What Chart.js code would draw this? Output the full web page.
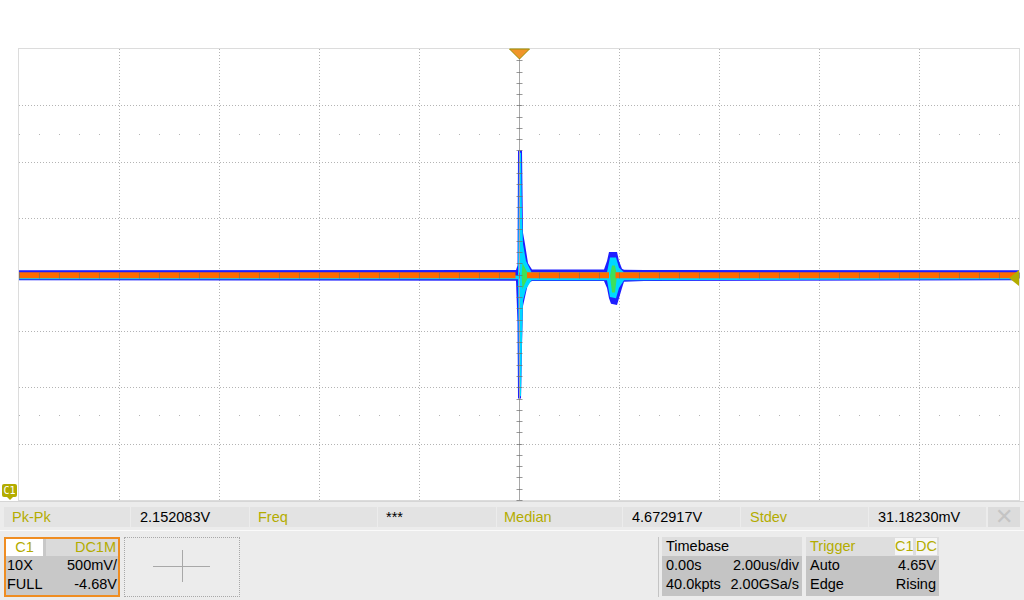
<!DOCTYPE html>
<html>
<head>
<meta charset="utf-8">
<script src="https://cdn.jsdelivr.net/npm/chart.js@4/dist/chart.umd.min.js"></script>
<style>
body { margin: 0; width: 1024px; height: 600px; background: #fff; overflow: hidden;
       font-family: "Liberation Sans", Arial, sans-serif; font-size: 14.5px; position: relative; }
#wrap { position: absolute; left: 0; top: 0; width: 1024px; height: 502px; }
.abs { position: absolute; box-sizing: border-box; }
.olive { color: #b3ac00; }
.cell { position: absolute; top: 507px; height: 20px; background: #e3e3e3; line-height: 20px; padding-left: 8px; box-sizing: border-box; white-space: nowrap; }
.row { position: absolute; height: 19px; line-height: 19px; white-space: nowrap; }
.r { text-align: right; }
</style>
</head>
<body>
<div id="wrap"><canvas id="scope" width="1024" height="502"></canvas></div>

<!-- channel marker -->
<div class="abs" style="left:2px;top:484px;width:15px;height:13px;background:#b3ac00;border-radius:2px;color:#fff;font-size:10px;line-height:13px;text-align:center;font-family:'DejaVu Sans Mono',monospace;">C1</div>
<div class="abs" style="left:7px;top:497px;width:0;height:0;border-left:3px solid transparent;border-right:3px solid transparent;border-top:3px solid #b3ac00;"></div>

<!-- measurement bar -->
<div class="abs" style="left:0;top:502px;width:1024px;height:98px;background:#ececec;"></div>
<div class="abs" style="left:0;top:501px;width:1024px;height:1px;background:#d6d6d6;"></div>
<div class="abs" style="left:0;top:530px;width:1024px;height:1px;background:#fafafa;"></div>
<div class="cell olive" style="left:4px;width:126px;">Pk-Pk</div>
<div class="cell" style="left:131px;width:118px;padding-left:9px;">2.152083V</div>
<div class="cell olive" style="left:250px;width:127px;">Freq</div>
<div class="cell" style="left:378px;width:118px;">***</div>
<div class="cell olive" style="left:497px;width:125px;padding-left:7px;">Median</div>
<div class="cell" style="left:623px;width:117px;padding-left:9px;">4.672917V</div>
<div class="cell olive" style="left:741px;width:127px;padding-left:9px;">Stdev</div>
<div class="cell" style="left:869px;width:117px;padding-left:9px;">31.18230mV</div>
<div class="cell" style="left:988px;width:32px;padding-left:0;background:#dcdcdc;color:#c4c4c4;text-align:center;font-size:22px;">&#x2715;</div>

<!-- channel box -->
<div class="abs" style="left:4px;top:537px;width:116px;height:60px;border:2px solid #ef8d22;background:#c8c8c8;"></div>
<div class="abs olive" style="left:6px;top:539px;width:37px;height:17px;background:#fff;text-align:center;line-height:17px;">C1</div>
<div class="abs olive r" style="left:46px;top:539px;width:72px;height:17px;background:#dadada;line-height:17px;padding-right:2px;">DC1M</div>
<div class="row" style="left:7px;top:556px;">10X</div>
<div class="row r" style="left:40px;top:556px;width:77px;">500mV/</div>
<div class="row" style="left:7px;top:575px;">FULL</div>
<div class="row r" style="left:40px;top:575px;width:77px;">-4.68V</div>

<!-- empty slot with crosshair -->
<div class="abs" style="left:124px;top:537px;width:116px;height:60px;border:1px dotted #a8a8a8;"></div>
<div class="abs" style="left:153px;top:566px;width:57px;height:1px;background:#a8a8a8;"></div>
<div class="abs" style="left:182px;top:550px;width:1px;height:32px;background:#a8a8a8;"></div>

<!-- timebase -->
<div class="abs" style="left:658px;top:537px;width:1px;height:60px;background:#c4c4c4;"></div>
<div class="abs" style="left:662px;top:537px;width:140px;height:19px;background:#dedede;"></div>
<div class="abs" style="left:662px;top:556px;width:140px;height:40px;background:#c4c4c4;"></div>
<div class="row" style="left:666px;top:537px;">Timebase</div>
<div class="row" style="left:666px;top:556px;">0.00s</div>
<div class="row r" style="left:700px;top:556px;width:99px;">2.00us/div</div>
<div class="row" style="left:666px;top:575px;">40.0kpts</div>
<div class="row r" style="left:700px;top:575px;width:99px;">2.00GSa/s</div>

<!-- trigger -->
<div class="abs" style="left:806px;top:537px;width:133px;height:19px;background:#dedede;"></div>
<div class="abs" style="left:806px;top:556px;width:133px;height:40px;background:#c4c4c4;"></div>
<div class="row olive" style="left:810px;top:537px;">Trigger</div>
<div class="abs olive" style="left:895px;top:538px;width:18px;height:17px;background:#f6f6f6;line-height:17px;text-align:center;">C1</div>
<div class="abs olive" style="left:916px;top:538px;width:21px;height:17px;background:#f6f6f6;line-height:17px;text-align:center;">DC</div>
<div class="row" style="left:810px;top:556px;">Auto</div>
<div class="row r" style="left:860px;top:556px;width:76px;">4.65V</div>
<div class="row" style="left:810px;top:575px;">Edge</div>
<div class="row r" style="left:860px;top:575px;width:76px;">Rising</div>

<script>
//SCREEN SETTINGS
var xDivs = [-10, -8, -6, -4, -2, 0, 2, 4, 6, 8, 10]; //time in us, 2.00us/div
var yDivs = [2.68, 3.18, 3.68, 4.18, 4.68, 5.18, 5.68, 6.18, 6.68]; //volts, 500mV/div, offset -4.68V
var trigPos = 0; //us
var trigLevel = 4.65; //V

//TRACE (persistence envelopes)
var timeBlue = [-10, -0.06, -0.03, -0.02, 0.04, 0.06, 0.08, 0.12, 0.18, 0.26, 1.7, 1.76, 1.8, 1.84, 1.96, 2.0, 2.06, 2.1, 2.5, 10];
var blueHi = [4.717, 4.72, 4.76, 5.78, 5.78, 5.78, 5.05, 4.95, 4.78, 4.725, 4.724, 4.80, 4.88, 4.88, 4.88, 4.80, 4.73, 4.722, 4.72, 4.717];
var blueLo = [4.628, 4.625, 4.25, 3.58, 3.58, 4.05, 4.40, 4.48, 4.60, 4.622, 4.622, 4.56, 4.47, 4.42, 4.41, 4.47, 4.56, 4.615, 4.622, 4.628];

var timeCyan = [-10, -0.02, 0.0, 0.04, 0.06, 0.08, 0.14, 0.25, 1.76, 1.82, 1.94, 2.0, 2.1, 10];
var cyanHi = [4.672, 4.672, 5.76, 5.76, 5.2, 4.95, 4.80, 4.70, 4.70, 4.83, 4.83, 4.74, 4.70, 4.672];
var cyanLo = [4.638, 4.638, 3.60, 3.60, 4.1, 4.45, 4.55, 4.628, 4.628, 4.48, 4.47, 4.56, 4.628, 4.638];

var timeGreen = [-10, 0.05, 0.07, 0.12, 0.2, 1.82, 1.86, 1.92, 1.96, 10];
var greenHi = [4.67, 4.67, 4.78, 4.74, 4.67, 4.67, 4.76, 4.76, 4.67, 4.67];
var greenLo = [4.67, 4.67, 4.55, 4.60, 4.67, 4.67, 4.52, 4.52, 4.67, 4.67];

var timeOrange = [-10, -0.07, 0, 0.16, 1.8, 1.86, 1.93, 10];
var orangeLevel = [4.674, 4.674, null, 4.674, 4.674, null, 4.674, 4.674];

function pts(ts, vs) {
    var out = [];
    for (var i = 0; i < ts.length; i++)
        out.push({ x: ts[i], y: vs[i] });
    return out;
}

function band(label, ts, vs, color, fill, order) {
    return {
        label: label,
        data: pts(ts, vs),
        borderWidth: 0,
        borderColor: 'rgba(0,0,0,0)',
        backgroundColor: color,
        pointRadius: 0,
        tension: 0,
        fill: fill,
        order: order
    };
}

//grid, axes and markers
var scopeGrid = {
    id: 'scopeGrid',
    beforeDatasetsDraw: function(chart) {
        var ctx = chart.ctx, a = chart.chartArea;
        var xs = chart.scales.x, ys = chart.scales.y;
        ctx.save();
        ctx.fillStyle = '#fff';
        ctx.fillRect(a.left, a.top, a.right - a.left, a.bottom - a.top);
        ctx.strokeStyle = '#b4b4b4';
        ctx.lineWidth = 1;
        ctx.setLineDash([1, 2]);
        for (var i = 1; i < xDivs.length - 1; i++) {
            if (xDivs[i] == trigPos) continue;
            var px = Math.round(xs.getPixelForValue(xDivs[i])) + 0.5;
            ctx.beginPath(); ctx.moveTo(px, a.top); ctx.lineTo(px, a.bottom); ctx.stroke();
        }
        for (var j = 1; j < yDivs.length - 1; j++) {
            if (j == 4) continue;
            var py = Math.round(ys.getPixelForValue(yDivs[j])) + 0.5;
            ctx.beginPath(); ctx.moveTo(a.left, py); ctx.lineTo(a.right, py); ctx.stroke();
        }
        //half division dot rows
        ctx.setLineDash([1, 19]);
        [yDivs[1] + 0.25, yDivs[6] + 0.25].forEach(function(v) {
            var py = Math.round(ys.getPixelForValue(v)) + 0.5;
            ctx.beginPath(); ctx.moveTo(a.left, py); ctx.lineTo(a.right, py); ctx.stroke();
        });
        ctx.setLineDash([]);
        ctx.strokeStyle = '#dcdcdc';
        ctx.strokeRect(a.left - 0.5, a.top - 0.5, a.right - a.left + 1, a.bottom - a.top + 1);
        ctx.restore();
    },
    afterDatasetsDraw: function(chart) {
        var ctx = chart.ctx, a = chart.chartArea;
        var xs = chart.scales.x, ys = chart.scales.y;
        var cx = Math.round(xs.getPixelForValue(trigPos)) + 0.5;
        var cy = Math.round(ys.getPixelForValue(yDivs[4])) + 0.5;
        ctx.save();
        ctx.lineWidth = 1;
        ctx.strokeStyle = '#a8a8a8';
        ctx.beginPath(); ctx.moveTo(cx, a.top); ctx.lineTo(cx, a.bottom); ctx.stroke();
        //minor ticks on the centre axes, 5 per division
        ctx.strokeStyle = 'rgba(110,110,110,0.7)';
        for (var v = yDivs[0]; v <= yDivs[8] + 0.001; v += 0.1) {
            var py = Math.round(ys.getPixelForValue(v)) + 0.5;
            ctx.beginPath(); ctx.moveTo(cx - 3, py); ctx.lineTo(cx + 3, py); ctx.stroke();
        }
        for (var t = xDivs[0]; t <= xDivs[10] + 0.001; t += 0.4) {
            var px = Math.round(xs.getPixelForValue(t)) + 0.5;
            ctx.beginPath(); ctx.moveTo(px, cy - 3); ctx.lineTo(px, cy + 3); ctx.stroke();
        }
        //trigger position marker
        ctx.fillStyle = '#f0952a';
        ctx.strokeStyle = '#9c9000';
        ctx.beginPath();
        ctx.moveTo(cx - 10, a.top); ctx.lineTo(cx + 10, a.top); ctx.lineTo(cx, a.top + 10); ctx.closePath();
        ctx.fill(); ctx.stroke();
        //trigger level marker
        var ty = ys.getPixelForValue(trigLevel);
        ctx.fillStyle = '#b3ac00';
        ctx.beginPath();
        ctx.moveTo(a.right, ty - 8); ctx.lineTo(a.right, ty + 8); ctx.lineTo(a.right - 10, ty); ctx.closePath();
        ctx.fill();
        ctx.restore();
    }
};

var ctx = document.getElementById('scope').getContext('2d');
var scopeChart = new Chart(ctx, {
    type: 'line',
    data: {
        datasets: [
            band('blueLo', timeBlue, blueLo, '#1e1eff', false, 8),
            band('blueHi', timeBlue, blueHi, '#1e1eff', '-1', 7),
            band('cyanLo', timeCyan, cyanLo, '#00d8ff', false, 6),
            band('cyanHi', timeCyan, cyanHi, '#00d8ff', '-1', 5),
            band('greenLo', timeGreen, greenLo, '#3ee05a', false, 4),
            band('greenHi', timeGreen, greenHi, '#3ee05a', '-1', 3),
            {
                label: 'C1',
                data: pts(timeOrange, orangeLevel),
                borderColor: '#ff6a00',
                borderWidth: 6,
                pointRadius: 0,
                tension: 0,
                fill: false,
                spanGaps: false,
                order: 1
            }
        ]
    },
    options: {
        responsive: false,
        animation: false,
        layout: { padding: { left: 19, top: 49, right: 5, bottom: 2 } },
        scales: {
            x: { type: 'linear', min: xDivs[0], max: xDivs[10], display: false },
            y: { type: 'linear', min: yDivs[0], max: yDivs[8], display: false }
        },
        plugins: {
            legend: { display: false },
            tooltip: { enabled: false }
        }
    },
    plugins: [scopeGrid]
});
</script>
</body>
</html>
